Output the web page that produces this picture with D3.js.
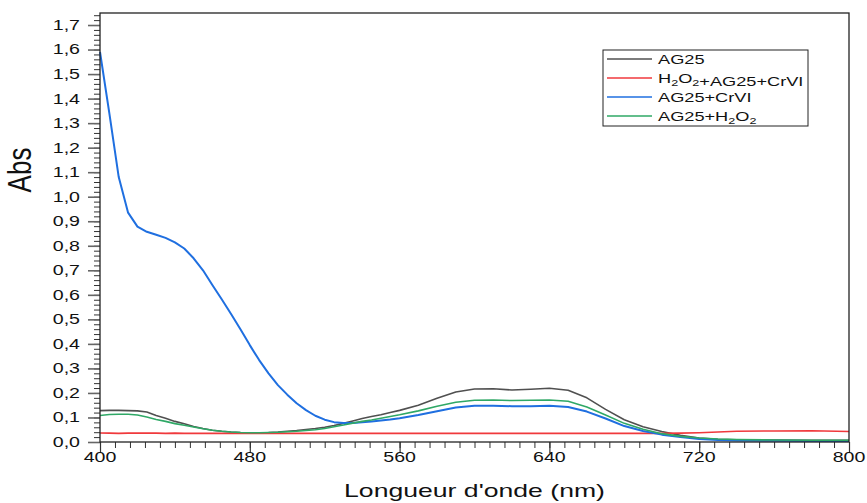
<!DOCTYPE html>
<html>
<head>
<meta charset="utf-8">
<script src="https://cdn.jsdelivr.net/npm/d3@7"></script>
<style>
  body { margin: 0; background: #fff; }
  text { font-family: Arial, "Liberation Sans", sans-serif; fill: #111; }
</style>
</head>
<body>
<div id="chart"></div>
<script>
// wavelengths (nm) shared by every series
var wavelengths = [400,405,410,415,420,425,430,435,440,445,450,455,460,465,470,475,480,485,490,495,
  500,505,510,515,520,525,530,535,540,545,550,555,560,570,580,590,600,610,620,630,640,650,660,670,
  680,690,700,710,720,730,740,760,780,800];

var ag25 = [0.128,0.129,0.129,0.128,0.127,0.122,0.108,0.097,0.084,0.074,0.063,0.055,0.048,0.044,0.041,0.039,
  0.038,0.038,0.039,0.041,0.044,0.047,0.051,0.055,0.060,0.067,0.076,0.086,0.096,0.104,0.111,0.120,0.129,
  0.150,0.178,0.204,0.216,0.217,0.212,0.215,0.219,0.211,0.180,0.133,0.091,0.062,0.043,0.027,0.016,0.011,
  0.009,0.008,0.007,0.007];

var h2o2Ag25CrVI = [0.037,0.036,0.035,0.036,0.037,0.036,0.036,0.035,0.036,0.035,0.035,0.035,0.035,0.035,0.035,0.035,
  0.035,0.035,0.035,0.035,0.035,0.035,0.035,0.035,0.035,0.035,0.035,0.035,0.035,0.035,0.035,0.035,0.035,
  0.035,0.035,0.035,0.035,0.035,0.035,0.035,0.035,0.035,0.035,0.035,0.035,0.035,0.035,0.036,0.038,0.041,
  0.044,0.045,0.046,0.043];

var ag25CrVI = [1.59,1.34,1.08,0.935,0.878,0.857,0.845,0.832,0.814,0.789,0.749,0.700,0.640,0.582,0.522,0.460,
  0.395,0.334,0.280,0.232,0.193,0.158,0.130,0.107,0.091,0.081,0.077,0.077,0.081,0.084,0.088,0.092,0.097,
  0.110,0.125,0.141,0.148,0.148,0.146,0.146,0.148,0.143,0.124,0.096,0.065,0.045,0.030,0.020,0.012,0.008,
  0.006,0.005,0.004,0.004];

var ag25H2o2 = [0.108,0.112,0.113,0.113,0.110,0.102,0.092,0.084,0.075,0.068,0.061,0.054,0.048,0.044,0.041,0.039,
  0.038,0.038,0.039,0.040,0.042,0.044,0.047,0.050,0.055,0.062,0.069,0.077,0.084,0.090,0.097,0.104,0.111,
  0.127,0.146,0.162,0.170,0.171,0.169,0.170,0.171,0.166,0.143,0.110,0.076,0.052,0.034,0.023,0.016,0.012,
  0.010,0.008,0.007,0.007];

var xTicks = [400,480,560,640,720,800];
var yTicks = d3.range(0, 18).map(function(i) { return i / 10; });

var series = [
  {name: "AG25", values: ag25, color: "#505050"},
  {name: "H2O2+AG25+CrVI", values: h2o2Ag25CrVI, color: "#f0393c"},
  {name: "AG25+CrVI", values: ag25CrVI, color: "#1f6fe0"},
  {name: "AG25+H2O2", values: ag25H2o2, color: "#2fa866"}
];

var width = 867, height = 503;
var margin = {top: 13, right: 18, bottom: 61, left: 100};
var SX = 1.4; // horizontal text stretch of the original picture

var svg = d3.select("#chart").append("svg")
    .attr("width", width)
    .attr("height", height);

var x = d3.scaleLinear().domain([400, 800]).range([margin.left, width - margin.right]);
var y = d3.scaleLinear().domain([0, 1.749]).range([height - margin.bottom, margin.top]);

// minor + major ticks, left
svg.append("g")
    .attr("transform", "translate(" + margin.left + ",0)")
    .call(d3.axisLeft(y).tickValues(d3.range(0, 88).map(function(i) { return i * 0.02; }))
        .tickSize(6).tickFormat(""))
    .call(function(g) { g.select(".domain").remove(); g.selectAll("line").attr("stroke", "#333"); });
svg.append("g")
    .attr("transform", "translate(" + margin.left + ",0)")
    .call(d3.axisLeft(y).tickValues(yTicks).tickSize(12).tickFormat(""))
    .call(function(g) { g.select(".domain").remove(); g.selectAll("line").attr("stroke", "#666").attr("stroke-width", 1.6); });

// minor + major ticks, bottom
svg.append("g")
    .attr("transform", "translate(0," + (height - margin.bottom) + ")")
    .call(d3.axisBottom(x).tickValues(d3.range(400, 801, 8)).tickSize(6).tickFormat(""))
    .call(function(g) { g.select(".domain").remove(); g.selectAll("line").attr("stroke", "#333"); });
svg.append("g")
    .attr("transform", "translate(0," + (height - margin.bottom) + ")")
    .call(d3.axisBottom(x).tickValues(xTicks).tickSize(11).tickFormat(""))
    .call(function(g) { g.select(".domain").remove(); g.selectAll("line").attr("stroke", "#333").attr("stroke-width", 1.2); });

// tick labels
svg.selectAll(".ylabel")
    .data(yTicks)
    .enter().append("text")
    .attr("class", "ylabel")
    .attr("text-anchor", "end")
    .attr("dy", "0.35em")
    .attr("font-size", 14)
    .attr("transform", function(d) { return "translate(80," + y(d) + ") scale(" + SX + ",1)"; })
    .text(function(d) { return d.toFixed(1).replace(".", ","); });

svg.selectAll(".xlabel")
    .data(xTicks)
    .enter().append("text")
    .attr("class", "xlabel")
    .attr("text-anchor", "middle")
    .attr("font-size", 14)
    .attr("transform", function(d) { return "translate(" + x(d) + ",462) scale(" + SX + ",1)"; })
    .text(function(d) { return d; });

// axis titles
svg.append("text")
    .attr("text-anchor", "middle")
    .attr("font-size", 19)
    .attr("transform", "translate(" + ((margin.left + width - margin.right) / 2) + ",497) scale(" + SX + ",1)")
    .text("Longueur d'onde (nm)");

svg.append("text")
    .attr("text-anchor", "middle")
    .attr("font-size", 26)
    .attr("transform", "translate(31,170) scale(1.3,1) rotate(-90)")
    .text("Abs");

// curves
var line = d3.line()
    .x(function(d, i) { return x(wavelengths[i]); })
    .y(function(d) { return y(d); });

svg.selectAll(".curve")
    .data(series)
    .enter().append("path")
    .attr("class", "curve")
    .attr("fill", "none")
    .attr("stroke", function(d) { return d.color; })
    .attr("stroke-width", function(d) { return d.name == "AG25+CrVI" ? 2 : 1.6; })
    .attr("stroke-linejoin", "round")
    .attr("d", function(d) { return line(d.values); });

// frame
svg.append("rect")
    .attr("x", margin.left)
    .attr("y", margin.top)
    .attr("width", width - margin.right - margin.left)
    .attr("height", height - margin.bottom - margin.top)
    .attr("fill", "none")
    .attr("stroke", "#222")
    .attr("stroke-width", 1.3);

// legend
var legend = svg.append("g").attr("transform", "translate(603,50)");
legend.append("rect")
    .attr("width", 205).attr("height", 76)
    .attr("fill", "#fff").attr("stroke", "#222").attr("stroke-width", 1);

var entry = legend.selectAll(".entry")
    .data(series)
    .enter().append("g")
    .attr("class", "entry")
    .attr("transform", function(d, i) { return "translate(0," + (9 + i * 19) + ")"; });

entry.append("line")
    .attr("x1", 4).attr("x2", 49)
    .attr("stroke", function(d) { return d.color; })
    .attr("stroke-width", 1.5);

var label = entry.append("text")
    .attr("font-size", 13)
    .attr("dy", "0.35em")
    .attr("transform", "translate(55,0) scale(" + SX + ",1)");

// split names so the 2 after H and O becomes a subscript
label.each(function(d) {
  var t = d3.select(this);
  var parts = d.name.split(/(H2O2)/);
  parts.forEach(function(p) {
    if (p == "H2O2") {
      t.append("tspan").text("H");
      t.append("tspan").attr("font-size", 9).attr("dy", 3).text("2");
      t.append("tspan").attr("dy", -3).text("O");
      t.append("tspan").attr("font-size", 9).attr("dy", 3).text("2");
      t.append("tspan").attr("dy", -3).text("");
    } else if (p.length) {
      t.append("tspan").text(p);
    }
  });
});
</script>
</body>
</html>
